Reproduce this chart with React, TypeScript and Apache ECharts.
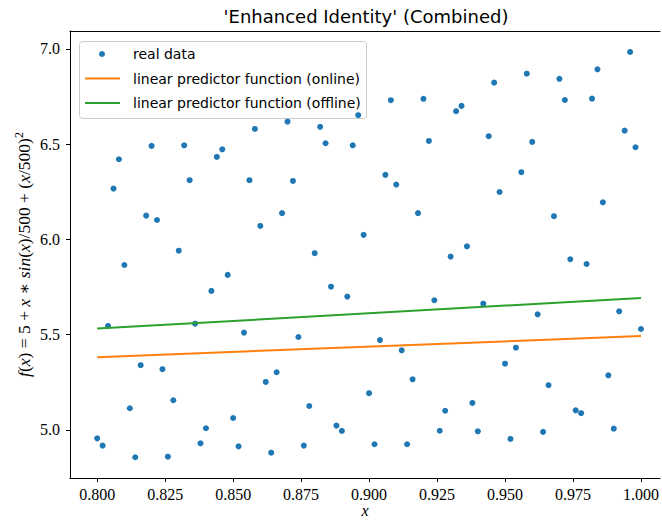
import React, { useEffect, useRef } from "react";
import * as echarts from "echarts";

const xValues = [
  0.800, 0.802, 0.804, 0.806, 0.808, 0.810, 0.812, 0.814, 0.816, 0.818,
  0.820, 0.822, 0.824, 0.826, 0.828, 0.830, 0.832, 0.834, 0.836, 0.838,
  0.840, 0.842, 0.844, 0.846, 0.848, 0.850, 0.852, 0.854, 0.856, 0.858,
  0.860, 0.862, 0.864, 0.866, 0.868, 0.870, 0.872, 0.874, 0.876, 0.878,
  0.880, 0.882, 0.884, 0.886, 0.888, 0.890, 0.892, 0.894, 0.896, 0.898,
  0.900, 0.902, 0.904, 0.906, 0.908, 0.910, 0.912, 0.914, 0.916, 0.918,
  0.920, 0.922, 0.924, 0.926, 0.928, 0.930, 0.932, 0.934, 0.936, 0.938,
  0.940, 0.942, 0.944, 0.946, 0.948, 0.950, 0.952, 0.954, 0.956, 0.958,
  0.960, 0.962, 0.964, 0.966, 0.968, 0.970, 0.972, 0.974, 0.976, 0.978,
  0.980, 0.982, 0.984, 0.986, 0.988, 0.990, 0.992, 0.994, 0.996, 0.998,
  1.000,
];

const yValues = [
  4.956, 4.918, 5.546, 6.267, 6.421, 5.866, 5.114, 4.857, 5.340, 6.125,
  6.491, 6.102, 5.319, 4.860, 5.156, 5.941, 6.494, 6.311, 5.558, 4.930,
  5.009, 5.730, 6.433, 6.473, 5.814, 5.063, 4.914, 5.511, 6.311, 6.580,
  6.071, 5.252, 4.881, 5.303, 6.138, 6.618, 6.307, 5.488, 4.918, 5.126,
  5.928, 6.591, 6.505, 5.752, 5.023, 4.995, 5.700, 6.494, 6.652, 6.024,
  5.193, 4.925, 5.472, 6.339, 6.731, 6.288, 5.418, 4.925, 5.266, 6.138,
  6.738, 6.517, 5.681, 4.996, 5.101, 5.910, 6.673, 6.701, 5.964, 5.142,
  4.993, 5.663, 6.542, 6.823, 6.249, 5.348, 4.953, 5.432, 6.353, 6.870,
  6.512, 5.607, 4.990, 5.235, 6.122, 6.843, 6.732, 5.896, 5.103, 5.088,
  5.871, 6.739, 6.893, 6.195, 5.287, 5.007, 5.623, 6.571, 6.984, 6.484,
  5.530,
];

const lineX = [0.8, 1.0];
const onlineY = [5.382, 5.493];
const offlineY = [5.532, 5.693];

const xTicks = [0.8, 0.825, 0.85, 0.875, 0.9, 0.925, 0.95, 0.975, 1.0];
const yTicks = [5.0, 5.5, 6.0, 6.5, 7.0];

const titleText = "'Enhanced Identity' (Combined)";
const legendLabels = [
  "real data",
  "linear predictor function (online)",
  "linear predictor function (offline)",
];

const SERIF = "'Liberation Serif', 'DejaVu Serif', serif";
const SANS = "'DejaVu Sans', sans-serif";

export default function App() {
  const ref = useRef<HTMLDivElement>(null);

  useEffect(() => {
    if (!ref.current) return;
    const chart = echarts.init(ref.current, undefined, { renderer: "svg" });

    const axisCommon = {
      type: "value" as const,
      splitLine: { show: false },
      axisLine: { show: true, onZero: false, lineStyle: { color: "#000", width: 1 } },
    };

    chart.setOption({
      animation: false,
      backgroundColor: "#ffffff",
      grid: { left: 70, right: 2, top: 31, bottom: 42, containLabel: false, outerBoundsMode: "none" },
      xAxis: [
        {
          ...axisCommon,
          min: 0.79,
          max: 1.007,
          axisTick: { show: true, length: 4, customValues: xTicks, lineStyle: { color: "#000" } },
          axisLabel: {
            customValues: xTicks,
            formatter: (v: number) => Number(v).toFixed(3),
            fontFamily: SERIF,
            fontSize: 16,
            color: "#000",
            margin: 8,
          },
          name: "x",
          nameLocation: "middle",
          nameGap: 24,
          nameMoveOverlap: false,
          nameTextStyle: {
            fontFamily: SERIF,
            fontStyle: "italic",
            fontSize: 16,
            color: "#000",
          },
        },
        {
          ...axisCommon,
          position: "top",
          min: 0.79,
          max: 1.007,
          axisTick: { show: false },
          axisLabel: { show: false },
        },
      ],
      yAxis: [
        {
          ...axisCommon,
          min: 4.748,
          max: 7.094,
          axisTick: { show: true, length: 4, customValues: yTicks, lineStyle: { color: "#000" } },
          axisLabel: {
            customValues: yTicks,
            formatter: (v: number) => Number(v).toFixed(1),
            fontFamily: SERIF,
            fontSize: 16,
            color: "#000",
            margin: 10,
          },
          name: "{i|f}({i|x}) = 5 + {i|x} ∗ {i|sin}({i|x})/500 + ({i|x}/500){s|2}",
          nameLocation: "middle",
          nameRotate: 90,
          nameGap: 35,
          nameMoveOverlap: false,
          nameTextStyle: {
            fontFamily: SERIF,
            fontSize: 17.5,
            color: "#000",
            lineHeight: 22,
            rich: {
              i: { fontFamily: SERIF, fontStyle: "italic", fontSize: 17.5, color: "#000", lineHeight: 22 },
              s: { fontFamily: SERIF, fontSize: 12, color: "#000", verticalAlign: "top", lineHeight: 12 },
            },
          },
        },
      ],
      series: [
        {
          type: "scatter",
          name: legendLabels[0],
          data: xValues.map((x, i) => [x, yValues[i]]),
          symbolSize: 6,
          itemStyle: { color: "#1f77b4", opacity: 1 },
          z: 2,
        },
        {
          type: "line",
          name: legendLabels[1],
          data: lineX.map((x, i) => [x, onlineY[i]]),
          showSymbol: false,
          symbol: "none",
          lineStyle: { color: "#ff7f0e", width: 2 },
          z: 3,
        },
        {
          type: "line",
          name: legendLabels[2],
          data: lineX.map((x, i) => [x, offlineY[i]]),
          showSymbol: false,
          symbol: "none",
          lineStyle: { color: "#2ca02c", width: 2 },
          z: 3,
        },
      ],
      graphic: [
        {
          type: "text",
          x: 366,
          y: 16,
          style: {
            text: titleText,
            font: `18px ${SANS}`,
            fill: "#000",
            align: "center",
            verticalAlign: "middle",
          },
          z: 100,
        },
        {
          type: "group",
          z: 100,
          children: [
            {
              type: "rect",
              shape: { x: 79.5, y: 41.5, width: 287, height: 77, r: 3 },
              style: { fill: "rgba(255,255,255,0.8)", stroke: "#cccccc", lineWidth: 1 },
            },
            {
              type: "circle",
              shape: { cx: 102, cy: 54, r: 3 },
              style: { fill: "#1f77b4" },
            },
            {
              type: "line",
              shape: { x1: 85, y1: 78.5, x2: 120, y2: 78.5 },
              style: { stroke: "#ff7f0e", lineWidth: 2 },
            },
            {
              type: "line",
              shape: { x1: 85, y1: 103, x2: 120, y2: 103 },
              style: { stroke: "#2ca02c", lineWidth: 2 },
            },
            ...legendLabels.map((t, i) => ({
              type: "text",
              x: 133,
              y: 54 + i * 24.5,
              style: { text: t, font: `14px ${SANS}`, fill: "#000", verticalAlign: "middle" },
            })),
          ],
        },
      ],
    });

    return () => chart.dispose();
  }, []);

  return (
    <div
      ref={ref}
      style={{ position: "absolute", left: 0, top: 0, width: 662, height: 520, background: "#fff" }}
    />
  );
}
